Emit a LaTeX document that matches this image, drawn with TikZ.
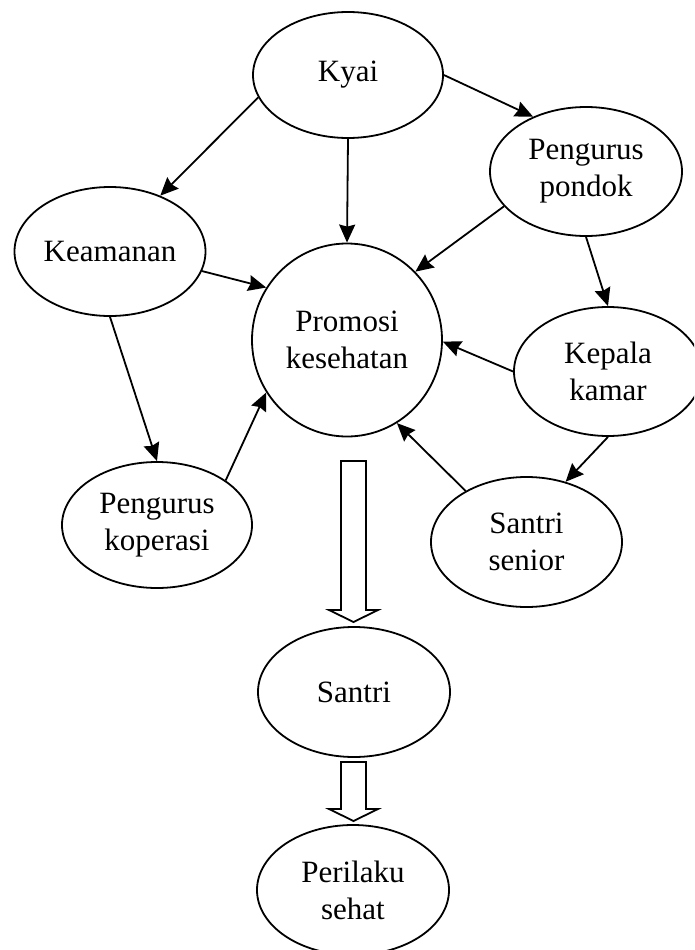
\documentclass[tikz,border=0pt]{standalone}
\usepackage{fontspec}
\setmainfont{Liberation Serif}
\usetikzlibrary{arrows.meta,shapes.geometric}
\begin{document}
\begin{tikzpicture}[x=1pt, y=-1pt,
  bubble/.style={draw, ellipse, line width=1.8pt, inner sep=0pt, align=center,
    font=\fontsize{31}{37}\selectfont},
  link/.style={line width=1.8pt, -{Stealth[length=18pt, width=16pt, inset=2pt]}},
  blockarrow/.style={draw, line width=1.8pt, fill=white, line join=miter}]
\useasboundingbox (0,0) rectangle (694,950);
\begin{scope}
\clip (0,0) rectangle (694,950);
% actors
\node[bubble, minimum width=190pt, minimum height=126pt] (kyai)   at (348,75)    {Kyai};
\node[bubble, minimum width=192pt, minimum height=129pt] (pondok) at (586,171.5) {Pengurus\\pondok};
\node[bubble, minimum width=191pt, minimum height=129pt] (aman)   at (110,251.5) {Keamanan};
\node[bubble, minimum width=190pt, minimum height=193pt] (promo)  at (347,340)   {Promosi\\kesehatan};
\node[bubble, minimum width=188pt, minimum height=129pt] (kamar)  at (608,371.5) {Kepala\\kamar};
\node[bubble, minimum width=190pt, minimum height=126pt] (kop)    at (157,525)   {Pengurus\\koperasi};
\node[bubble, minimum width=191pt, minimum height=130pt] (senior) at (526.5,542)  {Santri\\senior};
\node[bubble, minimum width=192pt, minimum height=130pt] (santri) at (354,692)   {Santri};
\node[bubble, minimum width=192pt, minimum height=130pt] (sehat)  at (353,890)   {Perilaku\\sehat};
% influence links
\draw[link] (kyai.194.8)  -- (aman.48);
\draw[link] (kyai.270)    -- (promo.90);
\draw[link] (kyai.0)      -- (pondok.134.7);
\draw[link] (pondok.203.2) -- (promo.45);
\draw[link] (pondok.270)  -- (kamar.90);
\draw[link] (aman.348.6)  -- (promo.147);
\draw[link] (aman.270)    -- (kop.90);
\draw[link] (kop.33.5)    -- (promo.213.5);
\draw[link] (kamar.180)   -- (promo.359);
\draw[link] (kamar.270)   -- (senior.57.3);
\draw[link] (senior.140.9) -- (promo.301.9);
% hollow block arrows
\draw[blockarrow] (341,461) -- (366,461) -- (366,610) -- (378,610) -- (353.5,622)
  -- (329,610) -- (341,610) -- cycle;
\draw[blockarrow] (341,762) -- (366,762) -- (366,809) -- (378,809) -- (353.5,821)
  -- (329,809) -- (341,809) -- cycle;
\end{scope}
\end{tikzpicture}
\end{document}
